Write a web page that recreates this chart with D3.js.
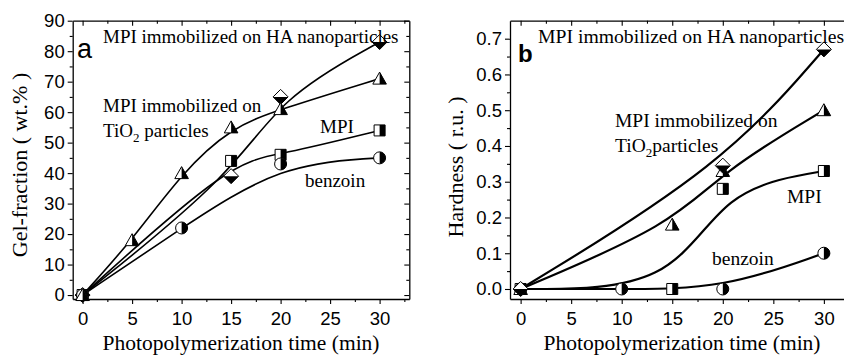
<!DOCTYPE html>
<html>
<head>
<meta charset="utf-8">
<script src="https://d3js.org/d3.v7.min.js"></script>
<style>
body { margin: 0; background: #fff; }
svg { display: block; }
.serif { font-family: "Liberation Serif", "Times New Roman", Times, serif; }
.sans { font-family: "Liberation Sans", Arial, Helvetica, sans-serif; }
</style>
</head>
<body>
<script>
// ---- data ----
// panel a : gel-fraction (wt.%)
var aHA_t = [0, 15, 20, 30],          aHA_v = [0, 39, 65, 83];
var aTiO2_t = [0, 5, 10, 15, 20, 30], aTiO2_v = [0, 18, 40, 55, 61, 71];
var aMPI_t = [0, 15, 20, 30],         aMPI_v = [0, 44, 46, 54];
var aBenz_t = [0, 10, 20, 30],        aBenz_v = [0, 22, 43, 45];
// panel b : hardness (r.u.)
var bHA_t = [0, 20, 30],              bHA_v = [0, 0.345, 0.67];
var bTiO2_t = [0, 15, 20, 30],        bTiO2_v = [0, 0.18, 0.33, 0.50];
var bMPI_t = [0, 15, 20, 30],         bMPI_v = [0, 0, 0.28, 0.33];
var bBenz_t = [0, 10, 20, 30],        bBenz_v = [0, 0, 0, 0.10];

var xTicks = [0, 5, 10, 15, 20, 25, 30];
var xMinor = [2.5, 7.5, 12.5, 17.5, 22.5, 27.5, 32.5];
var aYTicks = [0, 10, 20, 30, 40, 50, 60, 70, 80, 90];
var aYMinor = [5, 15, 25, 35, 45, 55, 65, 75, 85];
var bYTicks = [0, 0.1, 0.2, 0.3, 0.4, 0.5, 0.6, 0.7];
var bYMinor = [0.05, 0.15, 0.25, 0.35, 0.45, 0.55, 0.65];

var svg = d3.select("body").append("svg")
	.attr("width", 844)
	.attr("height", 355);

function zip(t, v) { return t.map(function(d, i) { return [d, v[i]]; }); }

// half filled markers
function drawMarker(g, kind, cx, cy) {
	var m = g.append("g").attr("transform", "translate(" + cx + "," + cy + ")");
	var full, half;
	if (kind == "tri") {
		full = "M0,-6.5L6.8,5.5L-6.8,5.5Z";
		half = "M0,-6.5L6.8,5.5L0,5.5Z";
	} else if (kind == "sq") {
		full = "M-5.5,-5.5H5.5V5.5H-5.5Z";
		half = "M0,-5.5H5.5V5.5H0Z";
	} else if (kind == "circ") {
		full = "M0,-6A6,6 0 1 1 0,6A6,6 0 1 1 0,-6Z";
		half = "M0,-6A6,6 0 0 1 0,6Z";
	} else {
		full = "M0,-7.5L7.5,0L0,7.5L-7.5,0Z";
		half = "M-7.5,0L7.5,0L0,7.5Z";
	}
	m.append("path").attr("d", full).attr("fill", "#fff");
	m.append("path").attr("d", half).attr("fill", "#000");
	m.append("path").attr("d", full).attr("fill", "none").attr("stroke", "#000").attr("stroke-width", 1);
}

function panel(opt) {
	var x = d3.scaleLinear().domain(opt.xDom).range(opt.xRange);
	var y = d3.scaleLinear().domain(opt.yDom).range([299, 20.7]);
	var g = svg.append("g");
	var left = opt.xRange[0], right = opt.xRange[1], top = 20.7, bottom = 299;

	var tickFont = function(sel) {
		sel.attr("font-family", null).attr("font-size", null).attr("class", "sans").style("font-size", "18.5px");
		sel.selectAll("text").attr("fill", "#000");
		sel.selectAll("line").attr("stroke", "#000").attr("stroke-width", 1.1);
		sel.select(".domain").attr("stroke", "#000").attr("stroke-width", 1.3);
	};

	// bottom
	g.append("g").attr("transform", "translate(0," + bottom + ")")
		.call(d3.axisBottom(x).tickValues(xTicks).tickSize(5).tickPadding(8).tickSizeOuter(0))
		.call(tickFont);
	g.append("g").attr("transform", "translate(0," + bottom + ")")
		.call(d3.axisBottom(x).tickValues(xMinor).tickSize(3).tickFormat("").tickSizeOuter(0))
		.call(tickFont).select(".domain").remove();
	// top (inward)
	g.append("g").attr("transform", "translate(0," + top + ")")
		.call(d3.axisTop(x).tickValues(xTicks).tickSize(-5).tickFormat("").tickSizeOuter(0))
		.call(tickFont);
	g.append("g").attr("transform", "translate(0," + top + ")")
		.call(d3.axisTop(x).tickValues(xMinor).tickSize(-3).tickFormat("").tickSizeOuter(0))
		.call(tickFont).select(".domain").remove();
	// left
	g.append("g").attr("transform", "translate(" + left + ",0)")
		.call(d3.axisLeft(y).tickValues(opt.yTicks).tickSize(5).tickPadding(3).tickSizeOuter(0).tickFormat(opt.fmt))
		.call(tickFont);
	g.append("g").attr("transform", "translate(" + left + ",0)")
		.call(d3.axisLeft(y).tickValues(opt.yMinor).tickSize(3).tickFormat("").tickSizeOuter(0))
		.call(tickFont).select(".domain").remove();
	// right (inward)
	g.append("g").attr("transform", "translate(" + right + ",0)")
		.call(d3.axisRight(y).tickValues(opt.yTicks).tickSize(-5).tickFormat("").tickSizeOuter(0))
		.call(tickFont);
	g.append("g").attr("transform", "translate(" + right + ",0)")
		.call(d3.axisRight(y).tickValues(opt.yMinor).tickSize(-3).tickFormat("").tickSizeOuter(0))
		.call(tickFont).select(".domain").remove();

	// curves (B-spline like the original)
	var line = d3.line()
		.x(function(d) { return x(d[0]); })
		.y(function(d) { return y(d[1]); })
		.curve(d3.curveBasis);
	opt.series.forEach(function(s) {
		g.append("path").attr("d", line(s.pts))
			.attr("fill", "none").attr("stroke", "#000").attr("stroke-width", opt.lw);
	});
	opt.series.forEach(function(s) {
		s.pts.forEach(function(p) { drawMarker(g, s.mk, x(p[0]), y(p[1])); });
	});

	// titles
	g.append("text")
		.attr("class", "serif")
		.attr("x", opt.xTitleX).attr("y", 350)
		.attr("text-anchor", "middle")
		.style("font-size", "21.5px")
		.text("Photopolymerization time (min)");
	g.append("text")
		.attr("class", "serif")
		.attr("transform", "translate(" + opt.yTitleX + "," + opt.yTitleY + ") rotate(-90)")
		.attr("text-anchor", "middle")
		.style("font-size", "22px")
		.text(opt.yTitle);
	return g;
}

var ga = panel({
	xDom: [-1, 33], xRange: [72.7, 409.3],
	yDom: [-1.3, 90], yTicks: aYTicks, yMinor: aYMinor, fmt: d3.format("d"),
	lw: 1.6, xTitleX: 241, yTitleX: 27, yTitleY: 165,
	yTitle: "Gel-fraction ( wt.% )",
	series: [
		{ mk: "dia", pts: zip(aHA_t, aHA_v) },
		{ mk: "sq", pts: zip(aMPI_t, aMPI_v) },
		{ mk: "circ", pts: zip(aBenz_t, aBenz_v) },
		{ mk: "tri", pts: zip(aTiO2_t, aTiO2_v) }
	]
});

var gb = panel({
	xDom: [-1.05, 32.95], xRange: [510, 853.7],
	yDom: [-0.028, 0.7503], yTicks: bYTicks, yMinor: bYMinor, fmt: d3.format(".1f"),
	lw: 2.2, xTitleX: 682, yTitleX: 463, yTitleY: 167,
	yTitle: "Hardness ( r.u. )",
	series: [
		{ mk: "sq", pts: zip(bMPI_t, bMPI_v) },
		{ mk: "circ", pts: zip(bBenz_t, bBenz_v) },
		{ mk: "tri", pts: zip(bTiO2_t, bTiO2_v) },
		{ mk: "dia", pts: zip(bHA_t, bHA_v) }
	]
});

// annotations
function note(g, x, y, size, txt) {
	return g.append("text").attr("class", "serif").attr("x", x).attr("y", y)
		.style("font-size", size + "px").text(txt);
}
function tio2(g, x, y, size, rest) {
	var t = g.append("text").attr("class", "serif").attr("x", x).attr("y", y)
		.style("font-size", size + "px");
	t.append("tspan").text("TiO");
	t.append("tspan").attr("dy", 5).style("font-size", "13px").text("2");
	t.append("tspan").attr("dy", -5).text(rest);
}

ga.append("text").attr("class", "sans").attr("x", 77).attr("y", 58)
	.style("font-size", "27px").text("a");
note(ga, 103, 43, 19, "MPI immobilized on HA nanoparticles");
note(ga, 103, 112, 19, "MPI immobilized on");
tio2(ga, 103, 137, 19, " particles");
note(ga, 320, 133, 19, "MPI");
note(ga, 305, 187, 19, "benzoin");

gb.append("text").attr("class", "sans").attr("x", 518).attr("y", 62)
	.style("font-weight", "bold").style("font-size", "24px").text("b");
note(gb, 538, 43, 19.7, "MPI immobilized on HA nanoparticles");
note(gb, 615, 127, 19.5, "MPI immobilized on");
tio2(gb, 615, 152, 19.5, "particles");
note(gb, 787, 203, 19.5, "MPI");
note(gb, 712, 265, 19.5, "benzoin");
</script>
</body>
</html>
